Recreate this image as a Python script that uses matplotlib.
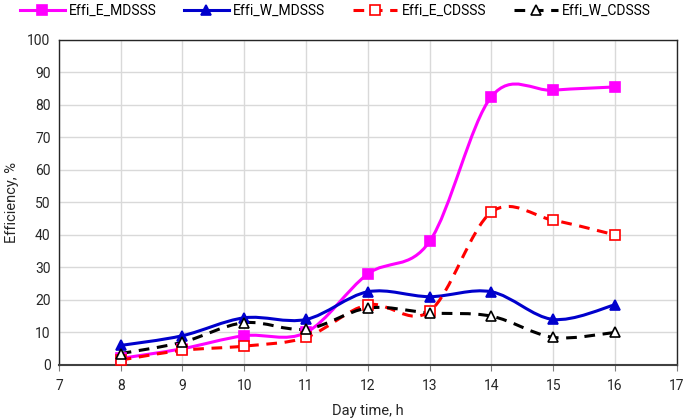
import numpy as np
import matplotlib.pyplot as plt
from matplotlib.path import Path
from matplotlib.patches import PathPatch
from matplotlib.lines import Line2D

plt.rcParams['font.family'] = ['Roboto', 'Liberation Sans', 'DejaVu Sans']

# Data
hours = [8, 9, 10, 11, 12, 13, 14, 15, 16]
effi_e_mdsss = [2.0, 5.0, 9.0, 10.0, 28.0, 38.0, 82.5, 84.5, 85.5]
effi_w_mdsss = [6.0, 9.0, 14.5, 14.0, 22.5, 21.0, 22.5, 14.0, 18.5]
effi_e_cdsss = [1.5, 4.5, 5.8, 8.5, 18.5, 16.5, 47.0, 44.5, 40.0]
effi_w_cdsss = [3.5, 7.0, 13.0, 11.0, 17.5, 16.0, 15.0, 8.5, 10.0]

x_ticks = list(range(7, 18))
y_ticks = list(range(0, 101, 10))


def smooth_path(xs, ys):
    # Excel-style smoothed line: cubic Bezier segments through the points
    pts = np.column_stack([xs, ys]).astype(float)
    n = len(pts)
    verts = [pts[0]]
    codes = [Path.MOVETO]
    for i in range(n - 1):
        p0 = pts[i - 1] if i > 0 else pts[i]
        p1 = pts[i]
        p2 = pts[i + 1]
        p3 = pts[i + 2] if i + 2 < n else pts[i + 1]
        c1 = p1 + (p2 - p0) / 6.0
        c2 = p2 - (p3 - p1) / 6.0
        verts += [c1, c2, p2]
        codes += [Path.CURVE4] * 3
    return Path(verts, codes)


fig = plt.figure(figsize=(6.85, 4.19), dpi=100)
ax = fig.add_axes([0.086, 0.129, 0.902, 0.776])

series = [
    ('Effi_E_MDSSS', effi_e_mdsss, '#FF00FF', '-', 's', '#FF00FF'),
    ('Effi_W_MDSSS', effi_w_mdsss, '#0000CC', '-', '^', '#0000CC'),
    ('Effi_E_CDSSS', effi_e_cdsss, '#FF0000', (0, (3.5, 2.5)), 's', 'white'),
    ('Effi_W_CDSSS', effi_w_cdsss, '#000000', (0, (3.5, 2.5)), '^', 'white'),
]

handles = []
for name, vals, color, ls, marker, face in series:
    patch = PathPatch(smooth_path(hours, vals), facecolor='none', edgecolor=color,
                      linewidth=2.2, linestyle=ls, zorder=3)
    ax.add_patch(patch)
    ax.plot(hours, vals, linestyle='none', marker=marker, markersize=6.5,
            markerfacecolor=face, markeredgecolor=color, markeredgewidth=1.2, zorder=4)
    handles.append(Line2D([], [], color=color, linewidth=2.2, linestyle=ls,
                          marker=marker, markersize=6.5, markerfacecolor=face,
                          markeredgecolor=color, markeredgewidth=1.2))

ax.set_xlim(7, 17)
ax.set_ylim(0, 100)
ax.set_xticks(x_ticks)
ax.set_yticks(y_ticks)
ax.grid(True, color='#D9D9D9', linewidth=1.0)
ax.set_axisbelow(True)
for s in ax.spines.values():
    s.set_color('#262626')
    s.set_linewidth(1.0)
ax.spines['bottom'].set_linewidth(1.5)
ax.spines['bottom'].set_color('#404040')
ax.tick_params(axis='both', labelsize=10, colors='#262626', direction='out', length=4,
               color='#808080', pad=6)
ax.tick_params(axis='y', length=0, pad=6)

ax.set_xlabel('Day time, h', fontsize=10.5, color='#262626', labelpad=8)
ax.set_ylabel('Efficiency, %', fontsize=10.5, color='#262626', labelpad=6)

fig.legend(handles, [s[0] for s in series], loc='upper center', ncol=4, frameon=False,
           bbox_to_anchor=(0.49, 1.02), fontsize=10, handlelength=3.2,
           columnspacing=2.0, handletextpad=0.3)

fig.savefig('out.png', dpi=100)
